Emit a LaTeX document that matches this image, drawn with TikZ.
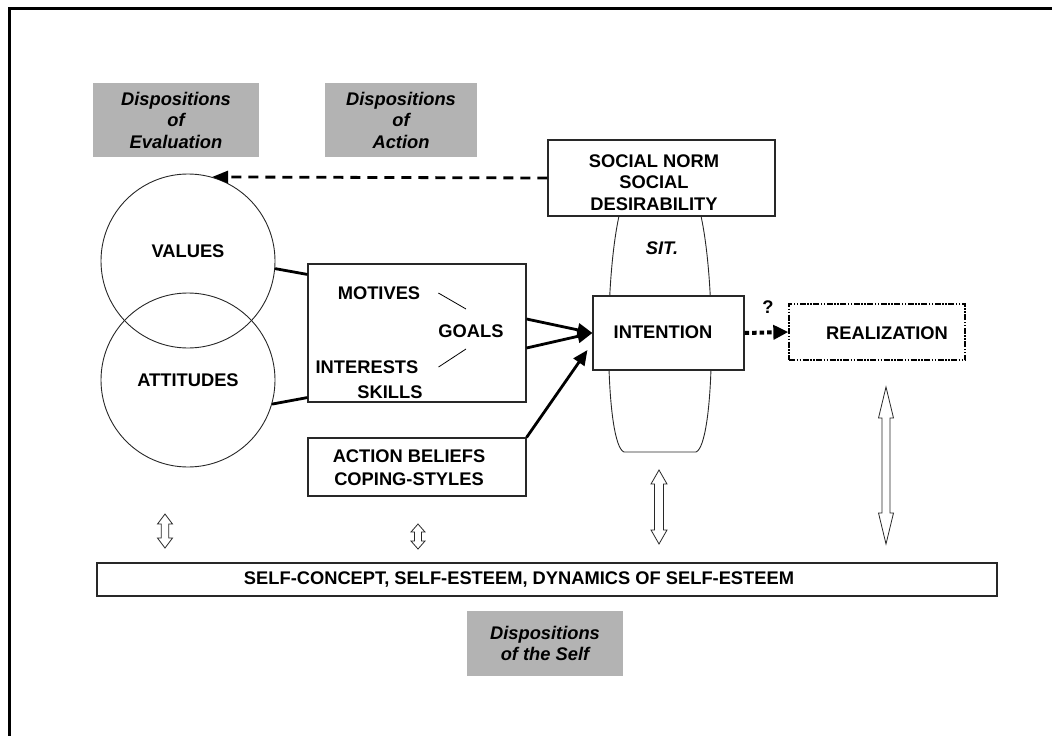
\documentclass[tikz,border=0pt]{standalone}
\usepackage{fontspec}
\setmainfont{Liberation Sans}
\usetikzlibrary{arrows.meta,calc}
\definecolor{dispgray}{RGB}{179,179,179}
\definecolor{edge}{RGB}{40,40,40}

% hollow double-headed arrow: x, y top, y bottom, shaft half width, head half width, head length
\newcommand\hollowdbl[6]{%
  \draw[hollow] (#1,#2) -- (#1+#5,#2+#6) -- (#1+#4,#2+#6) -- (#1+#4,#3-#6) -- (#1+#5,#3-#6)
    -- (#1,#3) -- (#1-#5,#3-#6) -- (#1-#4,#3-#6) -- (#1-#4,#2+#6) -- (#1-#5,#2+#6) -- cycle;}

\begin{document}
\begin{tikzpicture}[x=1pt,y=-1pt,
  every node/.style={font=\fontsize{18.3}{21.5}\selectfont\bfseries, inner sep=0pt},
  box/.style={draw=edge, line width=1.1pt, fill=white, rectangle},
  disp/.style={fill=dispgray, rectangle, align=center,
    font=\fontsize{18.3}{21.5}\selectfont\bfseries\itshape},
  lbl/.style={align=center},
  ring/.style={draw=edge, circle, line width=0.9pt, minimum size=174pt},
  thickline/.style={line width=2.8pt},
  solidarrow/.style={line width=2.8pt, -{Triangle[length=15pt,width=13pt]}},
  dasharrow/.style={line width=2.8pt, dash pattern=on 10pt off 7pt,
    -{Triangle[length=16pt,width=12pt]}},
  dotarrow/.style={line width=4pt, dash pattern=on 4.5pt off 3pt,
    -{Triangle[length=15pt,width=14pt]}},
  dashdot/.style={draw=black, line width=1.3pt,
    dash pattern=on 6pt off 1.5pt on 1.5pt off 1.5pt on 1.5pt off 1.5pt},
  hollow/.style={draw=edge, line width=0.8pt, fill=white, line join=miter},
  tick/.style={line width=0.8pt}
]
\useasboundingbox (0,0) rectangle (1052,736);

% frame
\draw[line width=3pt, line join=miter] (9.5,736) -- (9.5,8.3) -- (1052,8.3);

% grey headings
\node[disp, minimum width=166pt, minimum height=74pt] (evaldisp) at (176,120) {Dispositions\\of\\Evaluation};
\node[disp, minimum width=152pt, minimum height=74pt] (actdisp) at (401,120) {Dispositions\\of\\Action};
\node[disp, minimum width=156pt, minimum height=65pt] (selfdisp) at (545,643.5) {Dispositions\\of the Self};

% situation band behind the intention box
\draw[line width=0.9pt, draw=edge] (619,216) .. controls (603,290) and (606,445) .. (624,452)
  -- (696,452) .. controls (714,445) and (717,290) .. (701,216);

% evaluation dispositions
\node[ring] (values) at (188,261) {};
\node[ring] (attitudes) at (188,380) {};
\node[lbl] (valuestxt) at (188,251) {VALUES};
\node[lbl] (attitudestxt) at (188,380) {ATTITUDES};

% action dispositions
\node[box, minimum width=218pt, minimum height=138pt] (mbox) at (417,333) {};
\node[lbl] (motives) at (379,293) {MOTIVES};
\node[lbl] (goals) at (471,331) {GOALS};
\node[lbl] (interests) at (367,367) {INTERESTS};
\node[lbl] (skills) at (390,392) {SKILLS};
\draw[tick] ([xshift=18pt]motives.east) -- ([xshift=-5pt,yshift=22pt]goals.center);
\draw[tick] ([xshift=20pt]interests.east) -- ([xshift=-5pt,yshift=-18pt]goals.center);

\node[box, minimum width=218pt, minimum height=58pt] (action) at (417,467) {};
\node[lbl, font=\fontsize{18.3}{23}\selectfont\bfseries] (actiontxt) at (409,467.5) {ACTION BELIEFS\\COPING-STYLES};

% social norm, intention, realization
\node[box, minimum width=227pt, minimum height=76pt] (socnorm) at (661.5,178) {};
\node[lbl] (socnormtxt) at (654,182.5) {SOCIAL NORM\\SOCIAL\\DESIRABILITY};
\node[lbl] (sit) at (662,248) {\itshape SIT.};

\node[box, minimum width=151pt, minimum height=74pt] (intention) at (668.5,333) {};
\node[lbl] (intentiontxt) at (663,332) {INTENTION};

\node[box, dashdot, minimum width=176pt, minimum height=56pt] (realization) at (877,332) {};
\node[lbl] (realizationtxt) at (887,333) {REALIZATION};
\node[lbl] (question) at (768,307) {?};

% self concept
\node[box, minimum width=900pt, minimum height=33pt] (selfbox) at (547,579.5) {};
\node[lbl] (selftxt) at (519,580) {SELF-CONCEPT, SELF-ESTEEM, DYNAMICS OF SELF-ESTEEM};

% connectors
\draw[thickline] (values.-5) -- ([yshift=-11pt]mbox.north west);
\draw[thickline] (attitudes.-16) -- ([yshift=5pt]mbox.south west);
\draw[solidarrow] ([yshift=14pt]mbox.east) -- (intention.west);
\draw[solidarrow] ([yshift=-15pt]mbox.east) -- (intention.west);
\coordinate (intin) at ([xshift=-5pt,yshift=-17pt]intention.west);
\draw[solidarrow] (action.north east) -- (intin);
\draw[dasharrow] (socnorm.west) -- (values.74);
\draw[dotarrow] (intention.east) -- (realization.west);

% links to the self concept
\hollowdbl{165}{514}{548}{3.8}{7.5}{10}
\hollowdbl{418}{524}{549}{3.5}{7}{8}
\hollowdbl{659}{470}{544}{4.5}{8}{14}
\hollowdbl{886}{387}{544}{4}{7.5}{31}
\end{tikzpicture}
\end{document}
